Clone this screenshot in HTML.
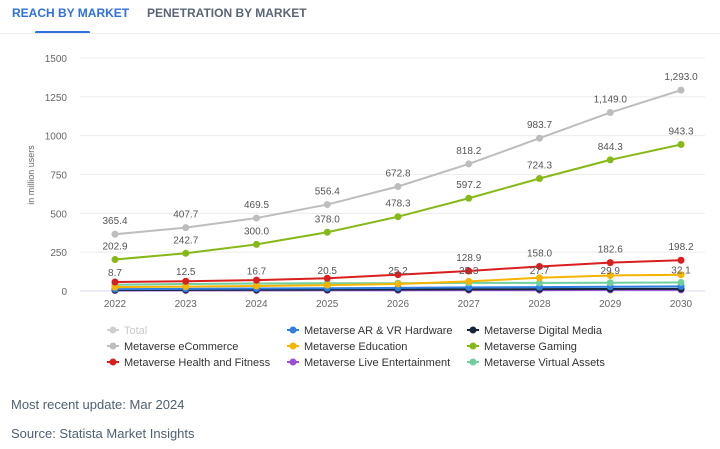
<!DOCTYPE html>
<html><head><meta charset="utf-8"><style>
body{margin:0;width:720px;height:449px;background:#fff;font-family:"Liberation Sans",sans-serif;overflow:hidden;position:relative}
.tab{position:absolute;top:6px;font-size:12px;font-weight:bold}
.foot{position:absolute;left:11px;font-size:13px;color:#4f5f70}
</style></head><body>
<div class="tab" style="left:12px;color:#2f6fe0">REACH BY MARKET</div>
<div class="tab" style="left:147px;color:#5a6675">PENETRATION BY MARKET</div>
<div style="position:absolute;left:35px;top:31px;width:55px;height:3px;background:#2f6fe0;border-radius:2px"></div>
<div style="position:absolute;left:0;top:33px;width:720px;height:1px;background:#eee"></div>
<svg id="chart" width="720" height="449" style="position:absolute;left:0;top:0"></svg>
<div class="foot" style="top:397px">Most recent update: Mar 2024</div>
<div class="foot" style="top:426px">Source: Statista Market Insights</div>
<script>
const years=["2022","2023","2024","2025","2026","2027","2028","2029","2030"];
const yTicks=[0,250,500,750,1000,1250,1500];
const ecommerce=[365.4,407.7,469.5,556.4,672.8,818.2,983.7,1149.0,1293.0];
const gaming=[202.9,242.7,300.0,378.0,478.3,597.2,724.3,844.3,943.3];
const health=[58,63,70,82,105,128.9,158.0,182.6,198.2];
const education=[25,28,32,38,45,62,85,100,105];
const virtualAssets=[40,45,48,50,50,52,52,53,55];
const arvr=[12,14,16,18,20,23,25,27,30];
const digitalMedia=[6,7,8,9,10,11,12,13,14];
const liveEnt=[3,4,4,5,5,6,6,7,7];
const smallLabels=["8.7","12.5","16.7","20.5","25.2","25.3","27.7","29.9","32.1"];
const NS="http://www.w3.org/2000/svg";
const svg=document.getElementById('chart');
const x0=115,dx=70.75,yBase=291,yTop=58,maxV=1500;
const X=i=>x0+i*dx;
const Y=v=>yBase-v/maxV*(yBase-yTop);
function el(t,a,txt){const e=document.createElementNS(NS,t);for(const k in a)e.setAttribute(k,a[k]);if(txt!==undefined)e.textContent=txt;svg.appendChild(e);return e;}
yTicks.forEach(t=>{
 const g=el('line',{x1:80,x2:705,y1:Y(t),y2:Y(t),stroke:t===0?'#d8d8ee':'#ececec','stroke-width':1});
 
 
 const l=el('text',{x:67,y:Y(t)+4,'text-anchor':'end','font-size':10,fill:'#666'},t);
 
 
});
years.forEach((y,i)=>{
 const l=el('text',{x:X(i),y:307,'text-anchor':'middle','font-size':10,fill:'#666'},y);
 
 
});
const yt=el('text',{x:34,y:175,'text-anchor':'middle','font-size':9,fill:'#666',transform:'rotate(-90 34 175)'},'in million users');


const series=[
 ['live-entertainment',liveEnt,'#9b4fd6'],['digital-media',digitalMedia,'#15263a'],['ar-vr',arvr,'#2f7fe0'],
 ['virtual-assets',virtualAssets,'#6fcf9f'],['education',education,'#f5b400'],['health',health,'#d91e1e'],
 ['gaming',gaming,'#86b817'],['ecommerce',ecommerce,'#bdbdbd']];
series.forEach(([n,d,c])=>{
 const p=el('polyline',{points:d.map((v,i)=>X(i)+','+Y(v)).join(' '),fill:'none',stroke:c,'stroke-width':2});
 
 
 d.forEach((v,i)=>{const m=el('circle',{cx:X(i),cy:Y(v),r:3.5,fill:c});
  
  });
});
function labels(d,fmt,n){d.forEach((v,i)=>{const t=el('text',{x:X(i),y:Y(v)-10,'text-anchor':'middle','font-size':10,fill:'#555'},fmt(v));
 
 });}
const f=v=>v.toLocaleString('en-US',{minimumFractionDigits:1,maximumFractionDigits:1});
labels(ecommerce,f,'ecommerce');labels(gaming,f,'gaming');
health.forEach((v,i)=>{if(i>=5){const t=el('text',{x:X(i),y:Y(v)-10,'text-anchor':'middle','font-size':10,fill:'#555'},f(v));
 
 }});
smallLabels.forEach((s,i)=>{const t=el('text',{x:X(i),y:Y(virtualAssets[i])-9,'text-anchor':'middle','font-size':10,fill:'#555'},s);
 
 });
const legend=[['Total','#d0d0d0',0,0,true],['Metaverse AR & VR Hardware','#2f7fe0',1,0],['Metaverse Digital Media','#15263a',2,0],
 ['Metaverse eCommerce','#bdbdbd',0,1],['Metaverse Education','#f5b400',1,1],['Metaverse Gaming','#86b817',2,1],
 ['Metaverse Health and Fitness','#d91e1e',0,2],['Metaverse Live Entertainment','#9b4fd6',1,2],['Metaverse Virtual Assets','#6fcf9f',2,2]];
const cols=[113,293,473];
legend.forEach(([n,c,col,row,dim])=>{
 const lx=cols[col],ly=330+row*16;
 const g=document.createElementNS(NS,'g');svg.appendChild(g);
 
 
 g.innerHTML=`<line x1="${lx-6}" x2="${lx+6}" y1="${ly}" y2="${ly}" stroke="${c}" stroke-width="2"/><circle cx="${lx}" cy="${ly}" r="3.5" fill="${c}"/><text x="${lx+11}" y="${ly+4}" font-size="11" fill="${dim?'#c8c8c8':'#333'}">${n.replace('&','&amp;')}</text>`;
});
</script>
</body></html>
